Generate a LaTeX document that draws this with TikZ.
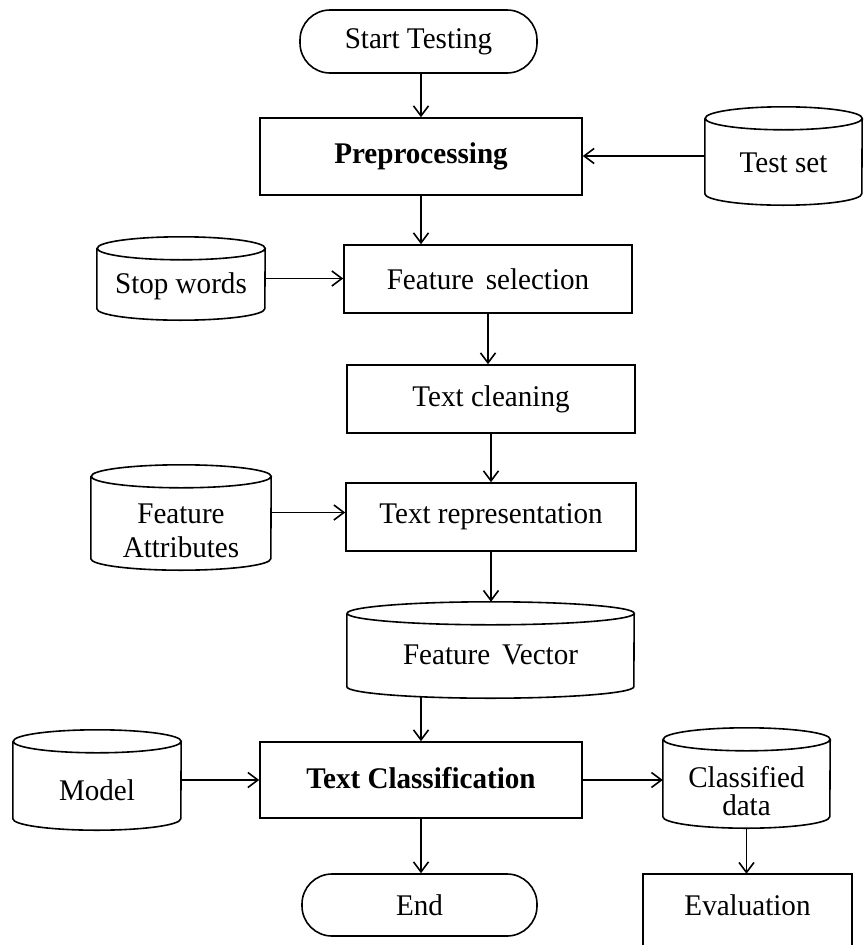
\documentclass[tikz,border=0pt]{standalone}
\usepackage{fontspec}
\setmainfont{Liberation Serif}[FakeStretch=0.97]
\usetikzlibrary{arrows.meta,calc}

% Database cylinder: name, left x, right x, top y, bottom y, text, text drop
\newcommand\dbnode[7]{%
  \pgfmathsetmacro\dbw{#3-#2}%
  \pgfmathsetmacro\dbh{#5-#4}%
  \pgfmathsetmacro\dbrx{(#3-#2)/2}%
  \pgfmathsetmacro\dbcx{(#2+#3)/2}%
  \pgfmathsetmacro\dbcy{-(#4+#5)/2}%
  \node[dbshape, minimum width=\dbw pt, minimum height=\dbh pt,
        label={[dblabel, yshift=-#7pt]center:{#6}}] (#1) at (\dbcx,\dbcy) {};
  \draw[line] ([yshift=-11.5pt]#1.north west) -- ([yshift=11.5pt]#1.south west)
    arc[start angle=180, end angle=360, x radius=\dbrx pt, y radius=11.5pt]
    -- ([yshift=-11.5pt]#1.north east)
    arc[start angle=0, end angle=360, x radius=\dbrx pt, y radius=11.5pt];
}

\begin{document}
\begin{tikzpicture}[x=1pt, y=1pt,
  line/.style={line width=1.6pt, draw=black},
  flow/.style={line, -{Straight Barb[length=10pt, width=15pt, line width=1.6pt]}},
  txt/.style={font=\fontsize{30}{31}\selectfont},
  procbox/.style={line, rectangle, inner sep=0pt, txt},
  pill/.style={procbox, rounded corners=30pt},
  dbshape/.style={inner sep=0pt, rectangle},
  dblabel/.style={txt, align=center}]

\useasboundingbox (0,0) rectangle (867,-945);
\clip (0,0) rectangle (867,-945);

% process steps
\node[pill, minimum width=237pt, minimum height=63pt] (start) at (418.5,-41.5) {Start Testing};
\node[procbox, minimum width=322pt, minimum height=77pt] (pre) at (421,-156.5) {\textbf{Preprocessing}};
\node[procbox, minimum width=288pt, minimum height=68pt] (fsel) at (488,-279) {Feature\hspace{0.15em} selection};
\node[procbox, minimum width=288pt, minimum height=68pt] (clean) at (491,-399) {Text cleaning};
\node[procbox, minimum width=290pt, minimum height=68pt] (trep) at (491,-517) {Text representation};
\node[procbox, minimum width=322pt, minimum height=76pt] (tcls) at (421,-780) {\raisebox{4pt}{\textbf{Text Classification}}};
\node[pill, minimum width=235pt, minimum height=62pt] (end) at (419.5,-905) {End};

% evaluation box, running off the lower edge
\node[txt, inner sep=0pt, minimum width=209pt, minimum height=62pt] (eval) at (747.5,-905) {Evaluation};
\draw[line] ([yshift=-30pt]eval.south west) -- (eval.north west) -- (eval.north east) -- ([yshift=-30pt]eval.south east);

% data stores
\dbnode{test}{705}{862}{107}{205}{Test set}{7}
\dbnode{stop}{97}{265}{237}{320}{Stop words}{8}
\dbnode{attr}{91}{271}{465}{570}{Feature\\[3pt]Attributes}{13}
\dbnode{fvec}{347}{634}{602}{698}{Feature\hspace{0.15em} Vector}{5}
\dbnode{model}{13}{181}{730}{830}{Model}{10}
\dbnode{cdata}{663}{830}{728}{828}{Classified\\[-3pt]data}{13}

% connectors
\draw[flow] (pre.north |- start.south) -- (pre.north);
\draw[flow] (test.west) -- (test.west -| pre.east);
\draw[flow] (pre.south) -- (pre.south |- fsel.north);
\draw[flow] (stop.east) -- (stop.east -| fsel.west);
\draw[flow] (fsel.south) -- (fsel.south |- clean.north);
\draw[flow] (clean.south) -- (clean.south |- trep.north);
\draw[flow] ([yshift=5pt]attr.east) -- ([yshift=5pt]attr.east -| trep.west);
\draw[flow] (trep.south) -- (trep.south |- fvec.north);
\draw[flow] ([yshift=1.5pt]tcls.north |- fvec.south) -- (tcls.north);
\draw[flow] (model.east) -- (model.east -| tcls.west);
\draw[flow] (tcls.east) -- (tcls.east -| cdata.west);
\draw[flow] (tcls.south) -- (tcls.south |- end.north);
\draw[flow] (cdata.south) -- (cdata.south |- eval.north);
\end{tikzpicture}
\end{document}
